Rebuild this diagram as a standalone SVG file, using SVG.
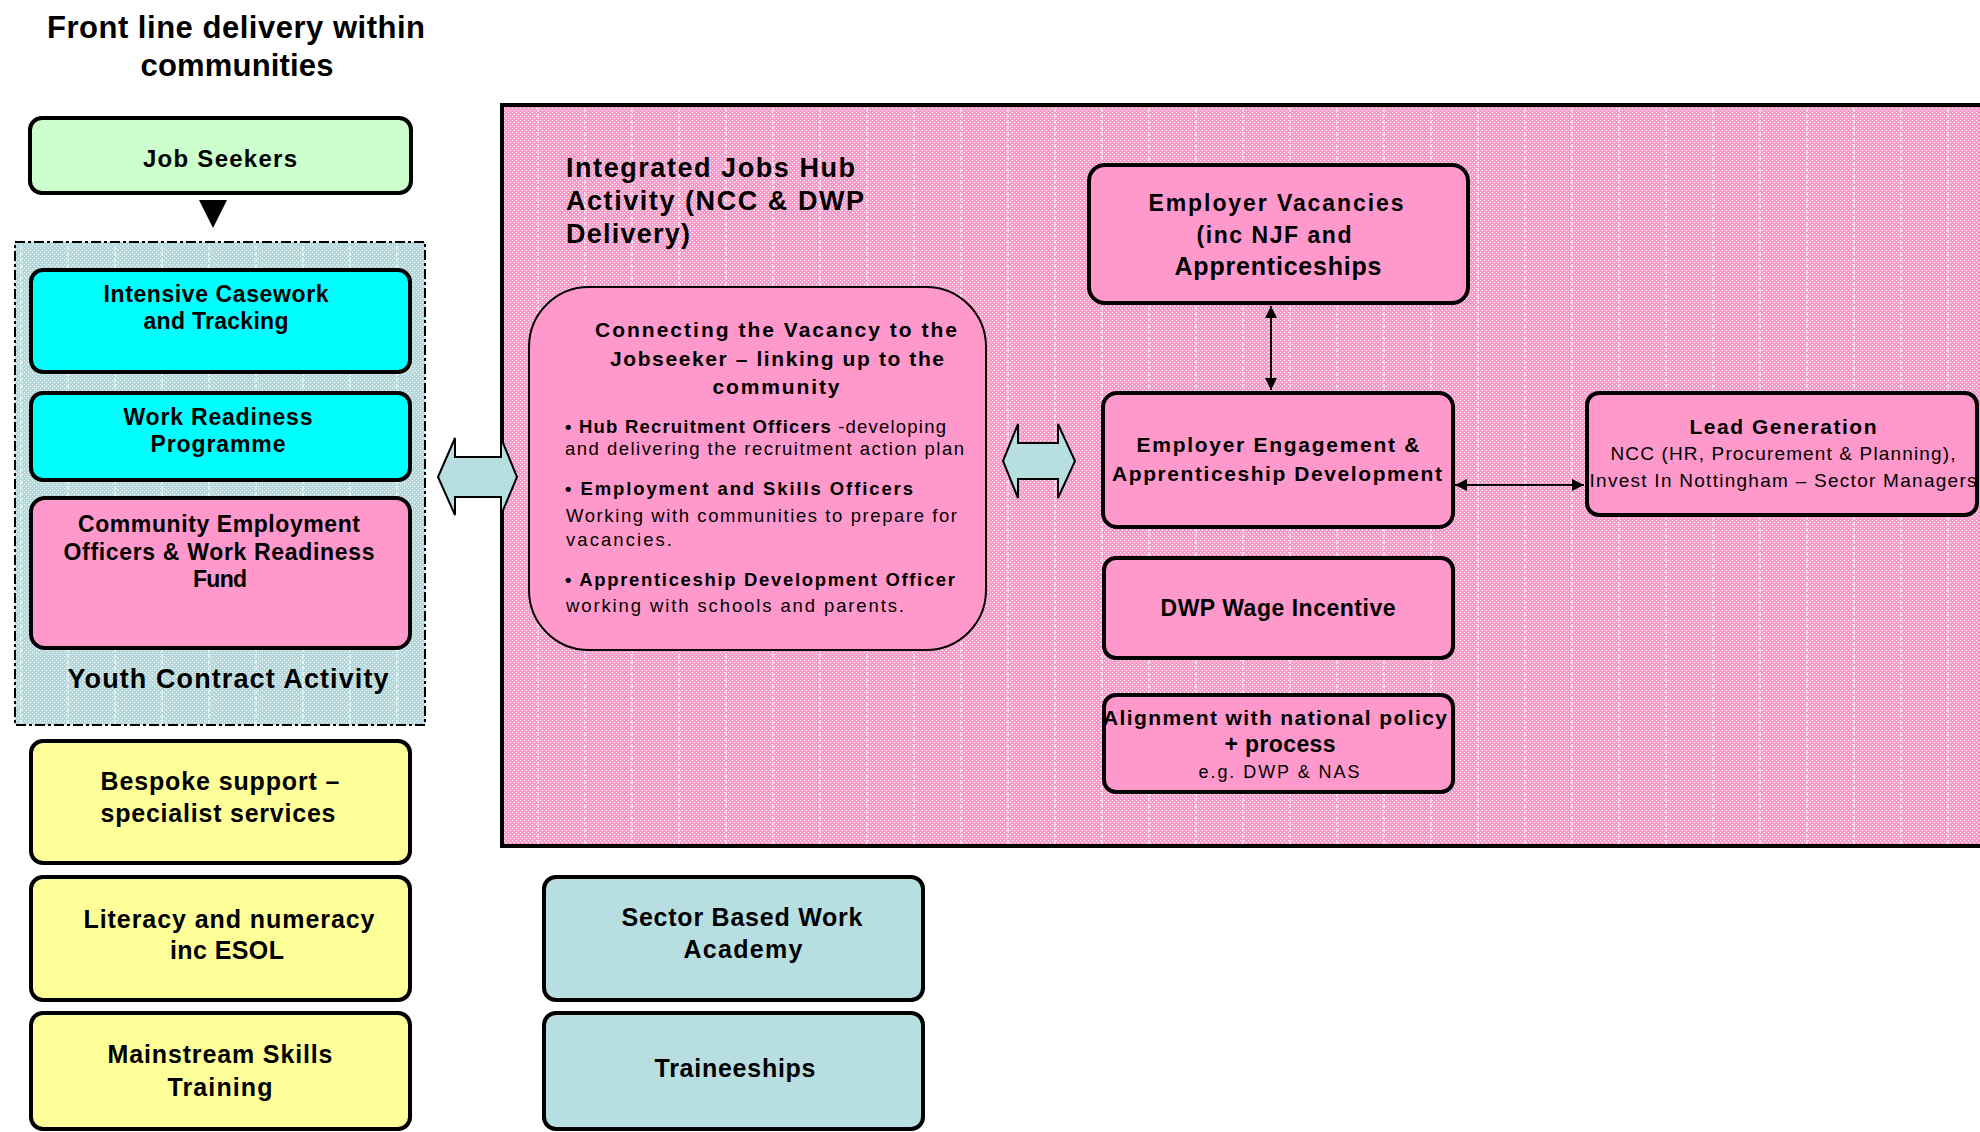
<svg xmlns="http://www.w3.org/2000/svg" width="1980" height="1132" viewBox="0 0 1980 1132">
<style>
text{font-family:"Liberation Sans",Arial,sans-serif;fill:#000}
.b{font-weight:bold}
.box{stroke:#000;stroke-width:4}
.c{text-anchor:middle}
</style>
<defs>
<pattern id="pk" width="4" height="4" patternUnits="userSpaceOnUse"><rect width="4" height="4" fill="#FF99CC"/><rect width="1" height="1" fill="#FFFFFF"/><rect x="2" y="2" width="1" height="1" fill="#FFFFFF"/></pattern>
<pattern id="bl" width="4" height="4" patternUnits="userSpaceOnUse"><rect width="4" height="4" fill="#B2DADE"/><rect width="1" height="1" fill="#FFFFFF"/><rect x="2" y="2" width="1" height="1" fill="#FFFFFF"/></pattern>
<pattern id="vl" width="47" height="6" patternUnits="userSpaceOnUse"><rect x="20" width="2" height="4" fill="#FFFFFF" opacity="0.55"/></pattern>
<marker id="ah" viewBox="0 0 10 10" refX="10" refY="5" markerWidth="6" markerHeight="6" orient="auto-start-reverse"><path d="M0,0 L10,5 L0,10 z" fill="#000"/></marker>
</defs>
<rect width="1980" height="1132" fill="#FFFFFF"/>

<g id="title">
<text class="b c" x="236" y="38" font-size="31" textLength="378">Front line delivery within</text>
<text class="b c" x="237" y="76" font-size="31" textLength="193">communities</text>
</g>

<g id="hub-region">
<rect x="502" y="105" width="1500" height="741" fill="url(#pk)" stroke="#000" stroke-width="4"/>
<rect x="504" y="107" width="1496" height="737" fill="url(#vl)"/>
<text class="b" x="566" y="177" font-size="27" textLength="289">Integrated Jobs Hub</text>
<text class="b" x="566" y="210" font-size="27" textLength="298">Activity (NCC &amp; DWP</text>
<text class="b" x="566" y="243" font-size="27" textLength="124">Delivery)</text>
</g>

<g id="youth-contract">
<rect x="15" y="242" width="410" height="483" fill="url(#bl)" stroke="#000" stroke-width="2" stroke-dasharray="10 3 3 3"/>
<rect x="16" y="243" width="408" height="481" fill="url(#vl)"/>
<text class="b c" x="228" y="688" font-size="27" textLength="321">Youth Contract Activity</text>
</g>

<g id="job-seekers">
<rect class="box" x="30" y="118" width="381" height="75" rx="12" fill="#CCFFCC"/>
<text class="b c" x="220" y="167" font-size="24" textLength="154">Job Seekers</text>
</g>

<g id="intensive-casework">
<rect class="box" x="31" y="270" width="379" height="102" rx="12" fill="#00FFFF"/>
<text class="b c" x="216" y="302" font-size="23" textLength="225">Intensive Casework</text>
<text class="b c" x="216" y="329" font-size="23" textLength="145">and Tracking</text>
</g>

<g id="work-readiness">
<rect class="box" x="31" y="393" width="379" height="87" rx="12" fill="#00FFFF"/>
<text class="b c" x="218" y="425" font-size="23" textLength="189">Work Readiness</text>
<text class="b c" x="218" y="452" font-size="23" textLength="135">Programme</text>
</g>

<g id="community-employment">
<rect class="box" x="31" y="498" width="379" height="150" rx="14" fill="#FF99CC"/>
<text class="b c" x="219" y="532" font-size="23" textLength="282">Community Employment</text>
<text class="b c" x="219" y="560" font-size="23" textLength="311">Officers &amp; Work Readiness</text>
<text class="b c" x="220" y="587" font-size="23" textLength="54">Fund</text>
</g>

<g id="bespoke-support">
<rect class="box" x="31" y="741" width="379" height="122" rx="12" fill="#FFFF99"/>
<text class="b c" x="220" y="790" font-size="25" textLength="239">Bespoke support –</text>
<text class="b c" x="218" y="822" font-size="25" textLength="235">specialist services</text>
</g>

<g id="literacy">
<rect class="box" x="31" y="877" width="379" height="123" rx="12" fill="#FFFF99"/>
<text class="b c" x="229" y="928" font-size="25" textLength="291">Literacy and numeracy</text>
<text class="b c" x="227" y="959" font-size="25" textLength="114">inc ESOL</text>
</g>

<g id="mainstream-skills">
<rect class="box" x="31" y="1013" width="379" height="116" rx="12" fill="#FFFF99"/>
<text class="b c" x="220" y="1063" font-size="25" textLength="225">Mainstream Skills</text>
<text class="b c" x="220" y="1096" font-size="25" textLength="105">Training</text>
</g>

<g id="sector-based">
<rect class="box" x="544" y="877" width="379" height="123" rx="12" fill="#B7DEE1"/>
<text class="b c" x="742" y="926" font-size="25" textLength="241">Sector Based Work</text>
<text class="b c" x="743" y="958" font-size="25" textLength="119">Academy</text>
</g>

<g id="traineeships">
<rect class="box" x="544" y="1013" width="379" height="116" rx="12" fill="#B7DEE1"/>
<text class="b c" x="735" y="1077" font-size="25" textLength="161">Traineeships</text>
</g>

<g id="connecting-vacancy">
<rect x="529" y="287" width="457" height="363" rx="60" fill="#FF99CC" stroke="#000" stroke-width="2"/>
<text class="b c" x="776" y="337" font-size="21" textLength="362">Connecting the Vacancy to the</text>
<text class="b c" x="777" y="366" font-size="21" textLength="334">Jobseeker – linking up to the</text>
<text class="b c" x="776" y="394" font-size="21" textLength="127">community</text>
<text x="565" y="433" font-size="18.5" letter-spacing="1.2"><tspan class="b">• Hub Recruitment Officers</tspan> -developing</text>
<text x="565" y="455" font-size="18.5" textLength="399">and delivering the recruitment action plan</text>
<text class="b" x="565" y="495" font-size="18.5" textLength="348">• Employment and Skills Officers</text>
<text x="566" y="522" font-size="18.5" textLength="391">Working with communities to prepare for</text>
<text x="566" y="546" font-size="18.5" textLength="106">vacancies.</text>
<text class="b" x="565" y="586" font-size="18.5" textLength="390">• Apprenticeship Development Officer</text>
<text x="566" y="612" font-size="18.5" textLength="338">working with schools and parents.</text>
</g>

<g id="employer-vacancies">
<rect class="box" x="1089" y="165" width="379" height="138" rx="16" fill="#FF99CC"/>
<text class="b c" x="1276" y="211" font-size="23" textLength="255">Employer Vacancies</text>
<text class="b c" x="1274" y="243" font-size="23" textLength="155">(inc NJF and</text>
<text class="b c" x="1278" y="275" font-size="25" textLength="207">Apprenticeships</text>
</g>

<g id="employer-engagement">
<rect class="box" x="1103" y="393" width="350" height="134" rx="14" fill="#FF99CC"/>
<text class="b c" x="1278" y="452" font-size="21" textLength="283">Employer Engagement &amp;</text>
<text class="b c" x="1277" y="481" font-size="21" textLength="330">Apprenticeship Development</text>
</g>

<g id="dwp-wage">
<rect class="box" x="1104" y="558" width="349" height="100" rx="12" fill="#FF99CC"/>
<text class="b c" x="1278" y="616" font-size="23" textLength="235">DWP Wage Incentive</text>
</g>

<g id="alignment">
<rect class="box" x="1104" y="695" width="349" height="97" rx="12" fill="#FF99CC"/>
<text class="b c" x="1275" y="725" font-size="21" textLength="344">Alignment with national policy</text>
<text class="b c" x="1280" y="752" font-size="23" textLength="111">+ process</text>
<text class="c" x="1279" y="778" font-size="18" textLength="161">e.g. DWP &amp; NAS</text>
</g>

<g id="lead-generation">
<rect class="box" x="1587" y="393" width="390" height="122" rx="12" fill="#FF99CC"/>
<text class="b c" x="1783" y="434" font-size="21" textLength="187">Lead Generation</text>
<text class="c" x="1783" y="460" font-size="19" textLength="345">NCC (HR, Procurement &amp; Planning),</text>
<text class="c" x="1783" y="487" font-size="19" textLength="387">Invest In Nottingham – Sector Managers</text>
</g>

<g id="connectors">
<polygon points="199,200 227,200 213,228" fill="#000"/>
<polygon points="438,477 455,438 455,457 501,457 501,438 517,477 501,515 501,497 455,497 455,515" fill="#B7DEE1" stroke="#000" stroke-width="2"/>
<polygon points="1003,461 1018,424 1018,443 1058,443 1058,424 1075,461 1058,498 1058,479 1018,479 1018,498" fill="#B7DEE1" stroke="#000" stroke-width="2"/>
<line x1="1271" y1="306" x2="1271" y2="390" stroke="#000" stroke-width="2" marker-start="url(#ah)" marker-end="url(#ah)"/>
<line x1="1455" y1="485" x2="1584" y2="485" stroke="#000" stroke-width="2" marker-start="url(#ah)" marker-end="url(#ah)"/>
</g>
</svg>
